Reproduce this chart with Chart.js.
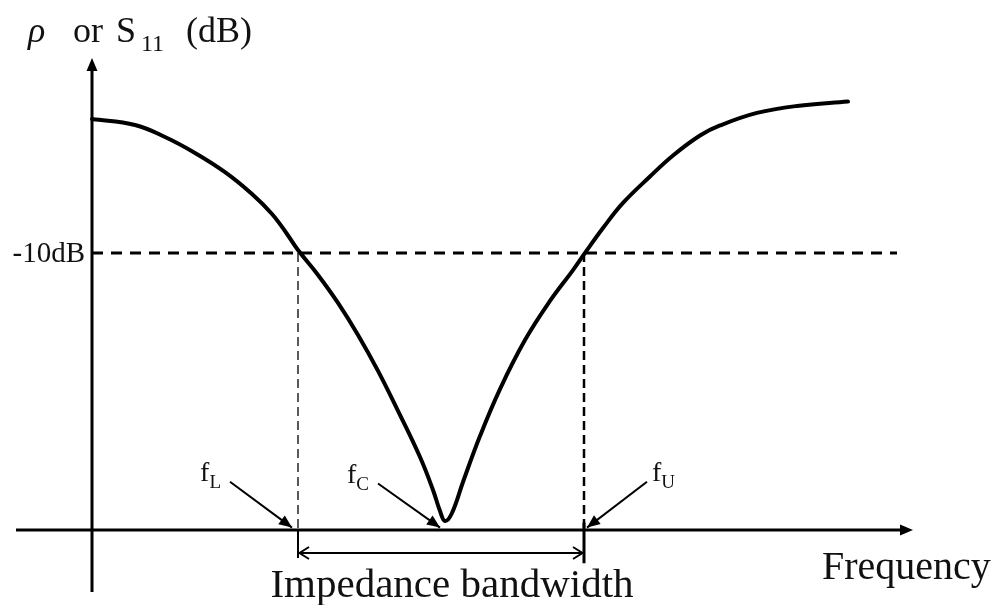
<!DOCTYPE html>
<html>
<head>
<meta charset="utf-8">
<title>Impedance bandwidth</title>
<script src="https://cdn.jsdelivr.net/npm/chart.js@4/dist/chart.umd.min.js"></script>
<style>
  html, body { margin: 0; padding: 0; background: #fff; }
  #wrap { width: 1006px; height: 605px; }
</style>
</head>
<body>
<div id="wrap"><canvas id="chart"></canvas></div>
<script>
// reflection curve (frequency in arbitrary units, level in dB)
const freq = [0, 0.43, 0.73, 1.03, 1.33, 1.60, 1.80, 1.95, 2.06, 2.26, 2.46, 2.66, 2.86, 3.06, 3.28, 3.41, 3.48, 3.53,
              3.60, 3.71, 3.88, 4.08, 4.33, 4.58, 4.81, 4.93, 5.11, 5.31, 5.58, 5.81, 6.08, 6.28, 6.65, 7.05, 7.56];
const s11 = [-2.10, -2.45, -3.16, -4.10, -5.23, -6.52, -7.70, -8.88, -9.83, -11.30, -12.95, -14.84, -16.96, -19.32, -22.04, -23.98, -25.22, -25.81,
             -25.34, -23.51, -20.80, -18.03, -15.14, -12.83, -11.01, -10.0, -8.53, -7.05, -5.49, -4.25, -3.07, -2.48, -1.74, -1.33, -1.07];

// band edges and centre
const fL = 2.06, fC = 3.53, fU = 4.92;
const markerSubs = ['L', 'C', 'U'];
// label arrows: tail -> tip
const pointerFrom = [[1.38, -23.5], [2.86, -23.6], [5.55, -23.5]];
const pointerTo = [[2.00, -26.2], [3.48, -26.2], [4.95, -26.2]];

const refLevel = -10;
const refLabel = '-10dB';
const refLineX = [0, 8.05];
const axisLevel = -26.35;     // where the frequency axis sits
const bwLevel = -27.7;        // "impedance bandwidth" arrow
const xMin = -0.76, xMax = 8.21;
const yMin = -30, yMax = 1.5;

const SERIF = "'Liberation Serif', 'Times New Roman', serif";

function seg(x0, y0, x1, y1, width, dash) {
  return {
    data: [{x: x0, y: y0}, {x: x1, y: y1}],
    borderColor: '#000',
    borderWidth: width,
    borderDash: dash || [],
    pointRadius: 0,
    clip: false,
    tension: 0
  };
}

function head(ctx, x, y, ang, len, half) {
  ctx.save();
  ctx.translate(x, y);
  ctx.rotate(ang);
  ctx.beginPath();
  ctx.moveTo(0, 0);
  ctx.lineTo(-len, -half);
  ctx.lineTo(-len, half);
  ctx.closePath();
  ctx.fill();
  ctx.restore();
}

const datasets = [
  {
    data: freq.map((f, i) => ({x: f, y: s11[i]})),
    borderColor: '#000',
    borderWidth: 4,
    pointRadius: 0,
    tension: 0.4,
    borderCapStyle: 'round',
    borderJoinStyle: 'round',
    clip: false
  },
  // axes
  seg(xMin, axisLevel, xMax - 0.06, axisLevel, 3),
  seg(0, yMin, 0, yMax - 0.6, 3),
  // -10 dB reference and band edges
  seg(refLineX[0], refLevel, refLineX[1], refLevel, 3, [11, 8]),
  seg(fL, refLevel, fL, axisLevel, 1.3, [9, 5]),
  seg(fU, refLevel, fU, axisLevel, 2.5, [9, 5]),
  // bandwidth bracket
  seg(fL, axisLevel, fL, -28.0, 2),
  seg(fU, -25.9, fU, -28.3, 3),
  seg(fL, bwLevel, fU, bwLevel, 2)
];
pointerFrom.forEach((p, i) => datasets.push(seg(p[0], p[1], pointerTo[i][0], pointerTo[i][1], 2)));

const decorations = {
  id: 'decorations',
  afterDatasetsDraw(chart) {
    const {ctx, scales: {x, y}} = chart;
    const px = v => x.getPixelForValue(v), py = v => y.getPixelForValue(v);
    ctx.save();
    ctx.fillStyle = '#000';
    ctx.strokeStyle = '#000';

    // axis arrow heads
    head(ctx, px(0), py(yMax), -Math.PI / 2, 13, 5.5);
    head(ctx, px(xMax), py(axisLevel), 0, 13, 5.5);

    // pointer heads
    pointerTo.forEach((t, i) => {
      const f = pointerFrom[i];
      const a = Math.atan2(py(t[1]) - py(f[1]), px(t[0]) - px(f[0]));
      head(ctx, px(t[0]), py(t[1]), a, 13, 5.5);
    });

    // open heads on the bandwidth arrow
    const by = py(bwLevel);
    ctx.lineWidth = 2;
    ctx.beginPath();
    ctx.moveTo(px(fL) + 11, by - 6); ctx.lineTo(px(fL) + 1.5, by); ctx.lineTo(px(fL) + 11, by + 6);
    ctx.moveTo(px(fU) - 11, by - 6); ctx.lineTo(px(fU) - 1.5, by); ctx.lineTo(px(fU) - 11, by + 6);
    ctx.stroke();

    // texts
    ctx.fillStyle = '#111';
    ctx.textBaseline = 'alphabetic';

    // y axis title
    const top = 42;
    ctx.textAlign = 'left';
    ctx.font = 'italic 36px ' + SERIF;
    ctx.fillText('ρ', 28, top);
    ctx.font = '36px ' + SERIF;
    ctx.fillText('or', 73, top);
    ctx.fillText('S', 116, top);
    ctx.fillText('(dB)', 186, top);
    ctx.font = '24px ' + SERIF;
    ctx.fillText('11', 141, top + 9);

    // -10dB
    ctx.font = '29px ' + SERIF;
    ctx.textAlign = 'right';
    ctx.textBaseline = 'middle';
    ctx.fillText(refLabel, px(0) - 7, py(refLevel) + 1);

    // f_L, f_C, f_U
    ctx.textBaseline = 'alphabetic';
    pointerFrom.forEach((f, i) => {
      const sx = px(f[0]), sy = py(f[1]);
      ctx.font = '28px ' + SERIF;
      const wf = ctx.measureText('f').width;
      ctx.font = '19px ' + SERIF;
      const ws = ctx.measureText(markerSubs[i]).width;
      const left = pointerTo[i][0] > f[0] ? sx - 9 - wf - ws : sx + 5;
      ctx.textAlign = 'left';
      ctx.font = '28px ' + SERIF;
      ctx.fillText('f', left, sy - 1);
      ctx.font = '19px ' + SERIF;
      ctx.fillText(markerSubs[i], left + wf, sy + 6);
    });

    // bottom labels
    ctx.font = '41px ' + SERIF;
    ctx.textAlign = 'center';
    ctx.fillText('Impedance bandwidth', (px(fL) + px(fU)) / 2 + 11, 597);
    ctx.textAlign = 'left';
    ctx.font = '40px ' + SERIF;
    ctx.fillText('Frequency', 822, 579);

    ctx.restore();
  }
};

new Chart(document.getElementById('chart'), {
  type: 'line',
  data: {datasets},
  options: {
    responsive: true,
    maintainAspectRatio: false,
    animation: false,
    layout: {padding: {left: 16, right: 93, top: 58, bottom: 13}},
    plugins: {legend: {display: false}, tooltip: {enabled: false}},
    scales: {
      x: {type: 'linear', min: xMin, max: xMax, display: false},
      y: {type: 'linear', min: yMin, max: yMax, display: false}
    }
  },
  plugins: [decorations]
});
</script>
</body>
</html>
